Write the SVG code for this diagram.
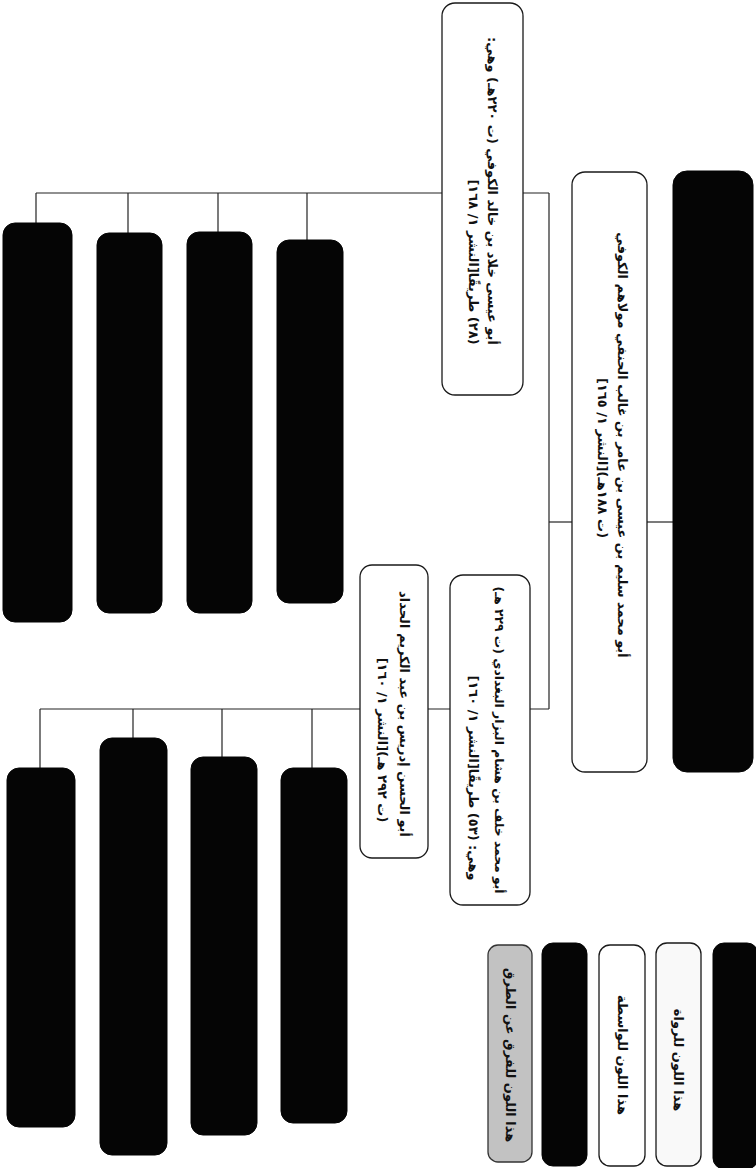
<svg xmlns="http://www.w3.org/2000/svg" width="756" height="1168" viewBox="0 0 756 1168">
<style>
.bg{fill:#ffffff}
.w{fill:#ffffff;stroke:#1a1a1a;stroke-width:1.3}
.lt{fill:#f9f9f9;stroke:#1a1a1a;stroke-width:1.3}
.k{fill:#050505;stroke:#050505;stroke-width:1}
.g{fill:#c2c2c2;stroke:#333333;stroke-width:1.3}
.c{fill:none;stroke:#222222;stroke-width:1.2}
.t{font-family:"DejaVu Sans",sans-serif;font-size:13px;font-weight:bold;fill:#111111;text-anchor:middle;dominant-baseline:central;direction:rtl}
.s{font-size:12.3px}
</style>
<rect class="bg" x="0" y="0" width="756" height="1168"/>
<g id="connectors">
<line class="c" x1="647" y1="522" x2="673" y2="522"/>
<line class="c" x1="549" y1="522" x2="572" y2="522"/>
<line class="c" x1="549" y1="193" x2="549" y2="709"/>
<line class="c" x1="36" y1="193" x2="549" y2="193"/>
<line class="c" x1="36" y1="193" x2="36" y2="223"/>
<line class="c" x1="128" y1="193" x2="128" y2="233"/>
<line class="c" x1="218" y1="193" x2="218" y2="232"/>
<line class="c" x1="307" y1="193" x2="307" y2="240"/>
<line class="c" x1="40" y1="709" x2="549" y2="709"/>
<line class="c" x1="40" y1="709" x2="40" y2="768"/>
<line class="c" x1="133" y1="709" x2="133" y2="738"/>
<line class="c" x1="222" y1="709" x2="222" y2="757"/>
<line class="c" x1="312" y1="709" x2="312" y2="768"/>
</g>
<g id="root">
<rect class="k" x="673" y="171" width="80" height="601" rx="14"/>
</g>
<g id="sulaym">
<rect class="w" x="572" y="172" width="75" height="600" rx="13"/>
<text class="t" x="622" y="445" transform="rotate(90 622 445)">أبو محمد سليم بن عيسى بن عامر بن غالب الحنفي مولاهم الكوفي</text>
<text class="t" x="602" y="458" transform="rotate(90 602 458)">(ت ١٨٨هـ)[النشر ١/ ١٦٥]</text>
</g>
<g id="khallad">
<rect class="w" x="442" y="3" width="81" height="392" rx="13"/>
<text class="t" x="492" y="191" transform="rotate(90 492 191)">أبو عيسى خلاد بن خالد الكوفي (ت ٢٢٠هـ) وهي:</text>
<text class="t" x="473" y="262" transform="rotate(90 473 262)">(٢٨) طريقًا[النشر ١/ ١٦٨]</text>
</g>
<g id="khalaf">
<rect class="w" x="450" y="575" width="80" height="330" rx="13"/>
<text class="t s" x="499" y="740" transform="rotate(90 499 740)">أبو محمد خلف بن هشام البزار البغدادي (ت ٢٢٩ هـ)</text>
<text class="t" x="473" y="778" transform="rotate(90 473 778)">وهي: (٥٣) طريقًا[النشر ١/ ١٦٠]</text>
</g>
<g id="idris">
<rect class="w" x="360" y="565" width="68" height="293" rx="12"/>
<text class="t" x="404" y="714" transform="rotate(90 404 714)">أبو الحسن إدريس بن عبد الكريم الحداد</text>
<text class="t" x="382" y="740" transform="rotate(90 382 740)">(ت ٢٩٢ هـ)[النشر ١/ ١٦٠]</text>
</g>
<g id="k1"><rect class="k" x="3" y="223" width="69" height="399" rx="12"/></g>
<g id="k2"><rect class="k" x="97" y="233" width="65" height="380" rx="12"/></g>
<g id="k3"><rect class="k" x="187" y="232" width="65" height="381" rx="12"/></g>
<g id="k4"><rect class="k" x="277" y="240" width="66" height="363" rx="12"/></g>
<g id="k5"><rect class="k" x="7" y="768" width="68" height="359" rx="12"/></g>
<g id="k6"><rect class="k" x="100" y="738" width="67" height="417" rx="12"/></g>
<g id="k7"><rect class="k" x="191" y="757" width="66" height="378" rx="12"/></g>
<g id="k8"><rect class="k" x="281" y="768" width="66" height="355" rx="12"/></g>
<g id="legend-turuq">
<rect class="g" x="488" y="945" width="44" height="217" rx="10"/>
<text class="t" x="510" y="1055" transform="rotate(90 510 1055)">هذا اللون للفرق عن الطرق</text>
</g>
<g id="legend-black1"><rect class="k" x="542" y="943" width="45" height="223" rx="11"/></g>
<g id="legend-wasita">
<rect class="w" x="599" y="945" width="46" height="221" rx="11"/>
<text class="t" x="622" y="1055" transform="rotate(90 622 1055)">هذا اللون للواسطة</text>
</g>
<g id="legend-ruwat">
<rect class="lt" x="656" y="943" width="45" height="223" rx="11"/>
<text class="t" x="678" y="1060" transform="rotate(90 678 1060)">هذا اللون للرواة</text>
</g>
<g id="legend-black2"><rect class="k" x="713" y="943" width="45" height="226" rx="11"/></g>
</svg>
